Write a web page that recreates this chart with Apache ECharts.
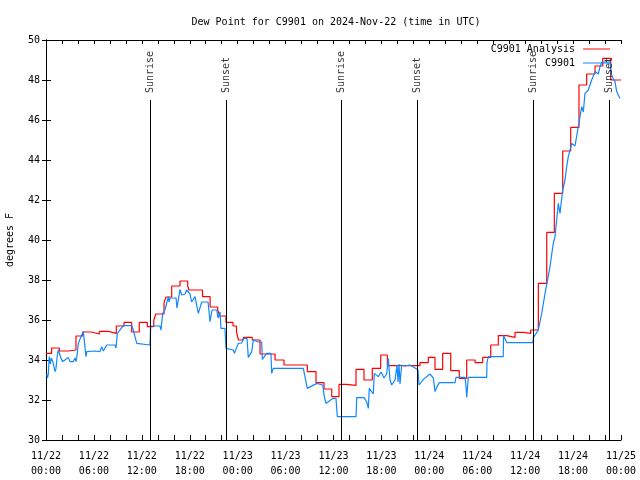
<!DOCTYPE html>
<html><head><meta charset="utf-8">
<script src="https://cdn.jsdelivr.net/npm/echarts@6/dist/echarts.min.js"></script>
<style>html,body{margin:0;padding:0;background:#fff}#c{width:640px;height:480px}</style>
</head><body><div id="c"></div>
<script>
// time in hours since 11/22 00:00 UTC
const xTickLabels = ['11/22\n00:00','11/22\n06:00','11/22\n12:00','11/22\n18:00','11/23\n00:00','11/23\n06:00','11/23\n12:00','11/23\n18:00','11/24\n00:00','11/24\n06:00','11/24\n12:00','11/24\n18:00','11/25\n00:00'];
const analysisHours = [0,0.7,1.67,2.8,3.75,4.6,5.7,6.67,7.8,8.8,9.77,10.73,11.68,12.68,13.5,13.75,14.78,15.03,15.74,16.78,17.74,17.9,19.6,20.55,21.5,21.75,22.54,23.42,23.85,24.1,24.7,25.83,26.8,28.68,29.8,32.72,33.81,34.81,35.78,36.69,37.57,38.82,39.82,40.86,41.91,42.74,46.83,47.87,48.71,49.67,50.68,51.75,52.68,53.72,54.68,55.69,56.64,57.69,58.73,59.77,60.69,61.65,62.7,63.65,64.7,65.7,66.74,67.7,68.75,69.71,70.71,72];
const analysisValues = [34.33,34.6,34.45,34.5,35.2,35.4,35.3,35.43,35.33,35.7,35.88,35.4,35.88,35.67,36.0,36.3,36.87,37.15,37.7,37.95,37.7,37.5,37.17,36.65,36.5,36.2,35.88,35.7,35.4,35.0,35.13,35.0,34.3,34.0,33.75,33.42,32.87,32.55,32.17,32.78,32.73,33.53,33.0,33.58,34.25,33.72,33.87,34.13,33.53,34.33,33.47,33.08,34.0,33.87,34.13,34.75,35.22,35.13,35.38,35.33,35.5,37.83,40.38,42.33,44.45,45.63,47.75,48.3,48.7,49.08,48.0,48.0];
const stationHours = [0.09,0.19,0.29,0.41,0.54,0.66,0.84,1.0,1.13,1.25,1.42,1.54,1.75,1.88,2.09,2.38,2.59,2.79,3.0,3.42,3.63,3.76,3.92,4.04,4.26,4.47,4.67,4.88,5.01,5.1,6.14,6.76,6.97,7.18,7.6,8.64,8.77,8.93,9.05,9.68,10.73,10.93,11.36,11.56,13.02,13.11,14.27,14.4,14.61,14.9,15.31,15.4,15.53,16.28,16.4,16.65,16.78,16.99,17.41,17.62,18.03,18.24,18.66,19.07,19.5,20.29,20.54,20.79,21.38,21.54,21.79,21.91,22.41,22.54,23.45,23.6,23.79,24.08,24.51,24.71,25.17,25.33,25.55,25.76,25.96,26.55,27.01,27.09,27.64,28.17,28.26,28.46,32.22,32.72,33.9,34.65,34.85,35.06,35.9,36.31,36.48,38.82,38.91,39.82,40.16,40.36,40.48,40.98,41.11,41.61,41.95,42.32,42.66,42.86,43.08,43.29,43.7,43.95,44.08,44.2,44.33,44.54,44.95,45.58,46.21,46.58,46.71,47.25,48.08,48.5,48.71,48.92,49.25,51.22,51.34,52.47,52.59,52.68,52.88,55.18,55.22,55.39,57.26,57.29,57.69,60.98,61.02,61.65,62.07,62.49,63.11,63.52,63.74,64.15,64.36,64.7,64.99,65.2,65.4,65.83,66.24,66.65,67.08,67.28,67.49,67.91,68.33,68.75,69.16,69.37,69.62,70.63,70.75,71.0,71.25,71.46,71.87];
const stationValues = [33.3,33.1,33.3,34.17,33.8,34.1,33.92,33.67,33.42,33.58,34.25,34.5,34.25,34.08,33.92,34.0,33.95,34.13,33.92,33.92,34.1,33.92,34.33,34.83,34.92,35.25,35.42,35.42,34.17,34.42,34.45,34.42,34.67,34.45,34.75,34.75,34.6,35.33,35.42,35.72,35.72,35.5,34.83,34.75,34.75,35.7,35.7,35.5,36.33,36.5,37.17,36.9,37.1,37.1,36.6,36.7,37.53,37.25,37.3,37.5,37.3,36.9,37.17,36.33,36.9,36.9,35.92,36.5,36.5,36.1,36.4,35.58,35.58,34.58,34.5,34.33,34.4,34.83,34.85,35.08,35.08,34.13,34.2,34.42,35.0,34.9,34.9,34.03,34.33,34.33,33.33,33.58,33.58,32.58,32.83,32.75,32.17,31.83,32.08,32.08,31.17,31.17,32.12,32.12,31.9,31.58,32.58,32.3,33.33,33.17,33.4,33.1,33.3,34.08,33.0,32.75,33.0,33.75,32.9,33.8,32.8,33.75,33.7,33.75,33.6,33.5,32.75,33.03,33.3,33.1,32.42,32.63,32.87,32.87,33.13,33.13,32.7,32.13,33.13,33.13,33.88,34.17,34.17,35.22,34.87,34.87,35.12,35.5,36.33,37.33,38.67,39.83,40.17,41.83,41.33,42.5,43.0,43.67,44.17,44.83,44.7,45.67,46.67,46.4,47.33,47.5,48.0,48.42,48.3,48.67,48.9,48.9,48.33,48.08,47.92,47.42,47.08];
const sunEventHours = [13.11, 22.54, 36.94, 46.5, 61.02, 70.54];
const sunEventNames = ['Sunrise','Sunset','Sunrise','Sunset','Sunrise','Sunset'];
const sunLineTop = 47;
const sunLabelBase = 47.35;

const FONT = 'DejaVu Sans Mono';
const chart = echarts.init(document.getElementById('c'));
const pair = (xs, ys) => xs.map((x, i) => [x, ys[i]]);
chart.setOption({
  animation: false,
  backgroundColor: '#fff',
  title: {text: 'Dew Point for C9901 on 2024-Nov-22 (time in UTC)', left: 331, top: 12, textAlign: 'center',
    textStyle: {fontFamily: FONT, fontSize: 10, fontWeight: 'normal', color: '#000'}},
  legend: [
    {data: ['C9901 Analysis'], right: 30, top: 44, orient: 'vertical', align: 'right', padding: 0,
     icon: 'rect', itemWidth: 27, itemHeight: 1, textStyle: {fontFamily: FONT, fontSize: 10, color: '#000', padding: [0, 3, 0, 0]}},
    {data: ['C9901'], right: 30, top: 58, orient: 'vertical', align: 'right', padding: 0,
     icon: 'rect', itemWidth: 27, itemHeight: 1, textStyle: {fontFamily: FONT, fontSize: 10, color: '#000', padding: [0, 3, 0, 0]}}
  ],
  grid: {left: 46, right: 19, top: 40, bottom: 40, containLabel: false, outerBoundsMode: 'none'},
  xAxis: [
    {type: 'value', min: 0, max: 72, interval: 2, position: 'bottom',
     axisLine: {show: true, lineStyle: {color: '#000', width: 1}},
     axisTick: {show: true, inside: true, length: 5, lineStyle: {color: '#000'}},
     splitLine: {show: false},
     axisLabel: {margin: 9, lineHeight: 15, fontFamily: FONT, fontSize: 10, color: '#000',
       formatter: v => (Math.round(v) % 6 === 0 ? xTickLabels[Math.round(v) / 6] : '')}},
    {type: 'value', min: 0, max: 72, interval: 2, position: 'top',
     axisLine: {show: true, lineStyle: {color: '#000', width: 1}},
     axisTick: {show: true, inside: true, length: 4, lineStyle: {color: '#000'}},
     splitLine: {show: false}, axisLabel: {show: false}}
  ],
  yAxis: [
    {type: 'value', min: 30, max: 50, interval: 2, position: 'left',
     name: 'degrees F', nameLocation: 'middle', nameGap: 31, nameRotate: 90,
     nameTextStyle: {fontFamily: FONT, fontSize: 10, color: '#000'},
     axisLine: {show: true, lineStyle: {color: '#000', width: 1}},
     axisTick: {show: true, inside: true, length: 5, lineStyle: {color: '#000'}},
     splitLine: {show: false},
     axisLabel: {margin: 6, fontFamily: FONT, fontSize: 10, color: '#000'}},
    {type: 'value', min: 30, max: 50, interval: 2, position: 'right',
     axisLine: {show: true, lineStyle: {color: '#000', width: 1}},
     axisTick: {show: true, inside: true, length: 4, lineStyle: {color: '#000'}},
     splitLine: {show: false}, axisLabel: {show: false}}
  ],
  series: [
    {name: 'C9901 Analysis', type: 'line', step: 'end', symbol: 'none', data: pair(analysisHours, analysisValues),
     color: '#ff0000', lineStyle: {color: '#ff0000', width: 1.2}, z: 3},
    {name: 'C9901', type: 'line', symbol: 'none', data: pair(stationHours, stationValues),
     color: '#1188ff', lineStyle: {color: '#1188ff', width: 1.2}, z: 4},
    {name: 'sun', type: 'line', data: [], symbol: 'none',
     markLine: {silent: true, symbol: 'none', animation: false, label: {show: false},
       lineStyle: {color: '#000', width: 1, type: 'solid'},
       data: sunEventHours.map(h => [{coord: [h, sunLineTop]}, {coord: [h, 30]}])}, z: 5},
    {name: 'sunLabels', type: 'scatter', symbolSize: 0, silent: true,
     data: sunEventHours.map((h, i) => ({value: [h, sunLabelBase], name: sunEventNames[i]})),
     label: {show: true, position: 'inside', rotate: 90, align: 'left', verticalAlign: 'middle',
       formatter: p => p.name, fontFamily: FONT, fontSize: 10, color: '#000'}, z: 6}
  ]
});
</script>
</body></html>
